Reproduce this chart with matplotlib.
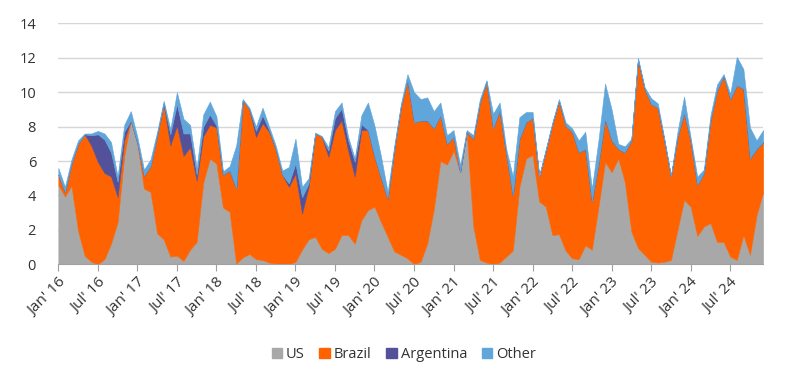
import matplotlib
matplotlib.use("Agg")
import matplotlib.pyplot as plt
from matplotlib.patches import Patch
import numpy as np

# monthly volumes, Jan'16 .. Dec'24
us = [4.6, 3.95, 4.55, 1.95, 0.5, 0.15, 0.0, 0.3, 1.2, 2.45, 6.3, 8.35,
      7.0, 4.4, 4.2, 1.8, 1.45, 0.45, 0.5, 0.2, 0.85, 1.3, 4.75, 6.15,
      5.85, 3.3, 3.05, 0.05, 0.4, 0.6, 0.3, 0.25, 0.1, 0.05, 0.0, 0.0,
      0.15, 0.85, 1.45, 1.6, 0.9, 0.65, 0.9, 1.7, 1.7, 1.2, 2.55, 3.15,
      3.35, 2.45, 1.6, 0.75, 0.55, 0.35, 0.0, 0.15, 1.2, 3.2, 6.0, 5.8,
      6.6, 5.35, 7.7, 2.2, 0.25, 0.1, 0.0, 0.1, 0.45, 0.8, 4.5, 6.15,
      6.35, 3.65, 3.35, 1.7, 1.75, 0.8, 0.35, 0.3, 1.1, 0.85, 3.35, 5.95,
      5.35, 6.15, 4.8, 1.9, 0.95, 0.55, 0.15, 0.1, 0.15, 0.25, 2.0, 3.75,
      3.35, 1.65, 2.2, 2.4, 1.3, 1.3, 0.45, 0.25, 1.7, 0.55, 2.85, 4.2]
brazil = [0.6, 0.25, 1.3, 5.05, 7.05, 6.75, 5.95, 5.0, 3.9, 1.45, 0.9, 0.0,
          0.05, 0.75, 1.5, 5.7, 7.9, 6.45, 7.55, 6.1, 5.95, 3.55, 2.7, 1.95,
          2.1, 1.9, 2.4, 4.35, 9.15, 8.4, 7.1, 7.95, 7.6, 6.65, 5.2, 4.5,
          5.1, 2.1, 3.05, 6.0, 6.5, 5.6, 6.9, 6.65, 4.9, 3.9, 5.25, 4.65,
          2.9, 2.55, 2.2, 5.95, 8.6, 10.35, 8.25, 8.2, 7.15, 4.7, 2.65, 1.2,
          0.8, 0.0, 0.0, 5.1, 9.15, 10.5, 7.9, 8.85, 5.95, 3.2, 2.8, 2.1,
          2.15, 1.45, 3.25, 6.45, 7.75, 7.25, 7.35, 6.2, 5.6, 2.8, 2.5, 2.5,
          1.85, 0.55, 1.7, 5.3, 10.95, 9.65, 9.15, 9.0, 7.05, 4.85, 5.4, 5.05,
          3.8, 2.95, 3.1, 5.95, 8.8, 9.65, 9.15, 10.15, 8.5, 5.6, 3.85, 2.9]
argentina = [0, 0, 0, 0, 0, 0.6, 1.6, 1.95, 1.4, 0.9, 0.5, 0,
             0, 0, 0, 0, 0, 0.65, 1.25, 1.3, 0.8, 0.35, 0.55, 0.6,
             0.1, 0, 0, 0, 0, 0, 0.35, 0.45, 0.1, 0, 0, 0.2,
             0.6, 0.95, 0.2, 0, 0, 0.35, 0.7, 0.7, 0.6, 0.85, 0.35, 0,
             0, 0, 0, 0, 0, 0, 0, 0, 0, 0, 0, 0,
             0, 0, 0, 0, 0, 0, 0, 0, 0, 0, 0, 0,
             0, 0, 0, 0, 0, 0, 0, 0, 0, 0, 0, 0,
             0, 0, 0, 0, 0, 0, 0, 0, 0, 0, 0, 0,
             0, 0, 0, 0, 0, 0, 0, 0, 0, 0, 0, 0]
other = [0.4, 0.3, 0.25, 0.2, 0.05, 0.1, 0.2, 0.35, 0.6, 0.3, 0.4, 0.55,
         0.35, 0.35, 0.4, 0.2, 0.15, 0.3, 0.7, 0.85, 0.5, 0.4, 0.7, 0.75,
         0.55, 0.2, 0.25, 2.5, 0.05, 0.1, 0.25, 0.45, 0.2, 0.2, 0.25, 0.95,
         1.45, 0.6, 0.3, 0.05, 0.05, 0.2, 0.4, 0.35, 0.2, 0.2, 0.5, 1.6,
         1.8, 1.25, 0.4, 0.2, 0.15, 0.35, 1.75, 1.25, 1.35, 1.0, 0.75, 0.5,
         0.4, 0.4, 0.1, 0.2, 0.2, 0.1, 0.85, 0.45, 0.3, 1.1, 1.25, 0.6,
         0.35, 0.05, 0.1, 0.1, 0.1, 0.2, 0.2, 0.7, 1.0, 0.75, 1.35, 2.05,
         1.8, 0.3, 0.35, 0.1, 0.1, 0.1, 0.35, 0.25, 0.1, 0.05, 0.3, 0.95,
         0.2, 0.5, 0.2, 0.3, 0.35, 0.1, 0.3, 1.65, 1.15, 1.8, 0.5, 0.7]

tick_labels = ["Jan' 16", "Jul' 16", "Jan' 17", "Jul' 17", "Jan' 18", "Jul' 18",
               "Jan' 19", "Jul' 19", "Jan' 20", "Jul' 20", "Jan' 21", "Jul' 21",
               "Jan' 22", "Jul' 22", "Jan' 23", "Jul' 23", "Jan' 24", "Jul' 24"]
series_names = ["US", "Brazil", "Argentina", "Other"]
colors = ["#a8a8a8", "#ff6200", "#525199", "#60a6da"]

plt.rcParams['font.family'] = ['Open Sans', 'DejaVu Sans']
text_col = "#333333"

fig = plt.figure(figsize=(8, 3.83), dpi=100)
ax = fig.add_axes([0.0729, 0.31, 0.881, 0.629])

x = np.arange(len(us))
polys = ax.stackplot(x, us, brazil, argentina, other, colors=colors, linewidth=0)
for p, c in zip(polys, colors):
    p.set_edgecolor(c)
    p.set_linewidth(0.4)

ax.set_xlim(0, len(us) - 1)
ax.set_ylim(0, 14)
ax.set_yticks(range(0, 15, 2))
ax.yaxis.grid(True, color="#d6d6d6", linewidth=1)
ax.set_axisbelow(True)

ax.set_xticks(np.arange(0, len(us), 6))
ax.set_xticklabels(tick_labels, rotation=45, ha="right", rotation_mode="anchor",
                   fontsize=11, color=text_col)
ax.tick_params(axis="x", length=5, color="#a0a0a0", pad=3)
ax.tick_params(axis="y", length=0, pad=16, labelsize=10.5, labelcolor=text_col)

for s in ["left", "right", "top"]:
    ax.spines[s].set_visible(False)
ax.spines["bottom"].set_color("#a0a0a0")
ax.spines["bottom"].set_zorder(5)

handles = [Patch(facecolor=c, edgecolor=c) for c in colors]
fig.legend(handles, series_names, loc="center", bbox_to_anchor=(0.505, 0.075),
           ncol=4, frameon=False, fontsize=10.5, handlelength=0.7, handleheight=0.7,
           handletextpad=0.3, columnspacing=1.0, labelcolor=text_col)

fig.savefig("out.png", dpi=100)
